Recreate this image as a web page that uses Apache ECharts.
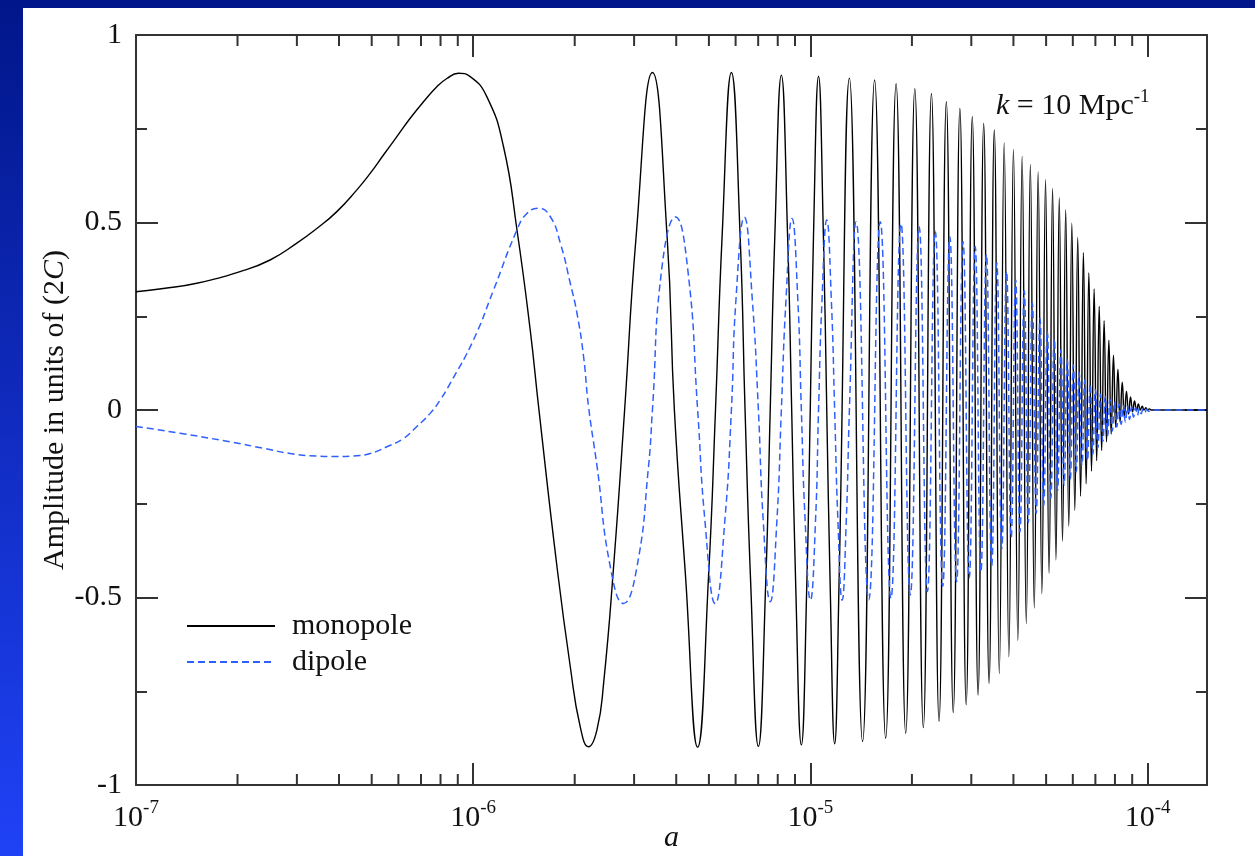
<!DOCTYPE html>
<html><head><meta charset="utf-8">
<script src="https://cdn.jsdelivr.net/npm/echarts@6/dist/echarts.min.js"></script>
<style>html,body{margin:0;padding:0;width:1255px;height:856px;overflow:hidden;background:#fff}#c{width:1255px;height:856px}</style>
</head><body><div id="c"></div>
<script>
// ---------- data (a in units of 1e-6) ----------
const aUnit = 1e-6;
const xMin = 1e-7, xMax = 1.5e-4;

const monoA = [0.10,0.1205,0.1514,0.2036,0.2498,0.2999,0.3438,0.3941,0.4518,0.4948,0.5418,0.5937,0.6503,0.7121,0.7801,0.8356,0.9045,0.9797,1.0982,1.2301,1.3485,1.4761,1.5627,1.772,1.94,2.077,2.198,2.328,2.436,2.608,2.812,
3.04,3.40,3.76,3.95,4.26,4.63,4.99,5.23,5.47,5.83,6.19,6.40,6.65,7.01,7.37,7.60,7.84,8.20,8.56,8.80,9.04,9.40,9.76,9.99,10.21,10.57,10.93,11.18,11.44,11.8,12.16,
13.05,14.28,15.5,16.72,17.95,19.17,20.4,21.62,22.85,24.07,25.3,26.52,27.75,28.97,30.2,31.42,32.65,33.87,35.1,36.32,37.55,38.77,40.0,41.22,42.45,43.67,44.9,46.12,47.35,48.57,49.8,51.02,52.25,53.47,54.7,55.92,57.15,58.37,59.6,60.82,62.05,63.27,64.5,65.72,66.95,68.17,69.4,70.62,71.85,73.07,74.3,75.52,76.75,77.97,79.2,80.42,81.65,82.87,84.1,85.32,86.55,87.77,89.0,90.2,91.45,92.7,93.9,95.1,96.35,97.6,98.8,100.0,101.25,102.5,110,150];
const monoY = [0.3155,0.324,0.338,0.369,0.40,0.445,0.484,0.529,0.587,0.631,0.68,0.729,0.778,0.822,0.862,0.884,0.898,0.889,0.835,0.702,0.48,0.213,0.009,-0.418,-0.684,-0.845,-0.898,-0.853,-0.729,-0.418,0.0,
0.46,0.90,0.46,0.0,-0.44,-0.899,-0.44,0.0,0.46,0.90,0.46,0.0,-0.46,-0.897,-0.46,0.0,0.46,0.893,0.46,0.0,-0.46,-0.893,-0.46,0.0,0.46,0.89,0.46,0.0,-0.46,-0.89,-0.46,
0.885,-0.884,0.88,-0.875,0.87,-0.862,0.857,-0.847,0.844,-0.83,0.822,-0.807,0.804,-0.786,0.782,-0.76,0.764,-0.729,0.747,-0.703,0.712,-0.658,0.695,-0.615,0.677,-0.57,0.655,-0.528,0.635,-0.49,0.614,-0.436,0.591,-0.4,0.566,-0.35,0.534,-0.31,0.498,-0.268,0.46,-0.23,0.42,-0.197,0.366,-0.163,0.323,-0.135,0.276,-0.108,0.238,-0.085,0.186,-0.064,0.146,-0.046,0.109,-0.032,0.074,-0.02,0.05,-0.011,0.035,-0.005,0.024,-0.002,0.016,0.0,0.01,0.0,0.006,0.0,0.003,0.0,0.0,0.0];

const dipA = [0.10,0.1351,0.19,0.2386,0.2864,0.3438,0.3941,0.4518,0.4948,0.5546,0.6211,0.6806,0.7455,0.7985,0.8547,1.002,1.149,1.348,1.443,1.563,1.692,1.813,1.94,2.031,2.125,2.198,2.33,2.55,2.79,3.06,3.31,3.40,3.62,3.98,4.33,4.63,
4.86,5.22,5.58,5.83,6.01,6.37,6.73,7.01,7.24,7.60,7.96,8.20,8.46,8.82,9.18,9.40,9.64,10.0,10.36,10.57,10.82,11.18,11.54,11.8,12.06,12.42,12.78,13.05,
13.66,14.89,16.11,17.33,18.56,19.78,21.01,22.23,23.46,24.68,25.91,27.13,28.36,29.58,30.81,32.03,33.26,34.48,35.71,36.93,38.16,39.38,40.61,41.83,43.06,44.28,45.51,46.73,47.96,49.18,50.41,51.63,52.86,54.08,55.31,56.53,57.76,58.98,60.21,61.43,62.66,63.88,65.11,66.33,67.56,68.78,70.01,71.23,72.46,73.68,74.91,76.13,77.36,78.58,79.81,81.03,82.26,83.48,84.71,85.93,87.16,88.38,89.6,90.83,92.08,93.3,94.5,95.7,96.95,98.2,99.4,100.6,104,150];
const dipY = [-0.044,-0.062,-0.085,-0.102,-0.116,-0.123,-0.124,-0.122,-0.116,-0.098,-0.076,-0.044,-0.009,0.027,0.071,0.187,0.32,0.48,0.524,0.538,0.516,0.445,0.338,0.258,0.142,0.009,-0.151,-0.418,-0.516,-0.418,-0.151,0.0,0.373,0.515,0.373,0.0,
-0.29,-0.516,-0.29,0.0,0.29,0.514,0.29,0.0,-0.29,-0.511,-0.29,0.0,0.29,0.511,0.29,0.0,-0.29,-0.507,-0.29,0.0,0.29,0.507,0.29,0.0,-0.29,-0.507,-0.29,0.0,
0.502,-0.506,0.502,-0.502,0.497,-0.493,0.489,-0.484,0.477,-0.47,0.462,-0.458,0.449,-0.448,0.436,-0.432,0.415,-0.415,0.392,-0.37,0.37,-0.34,0.347,-0.325,0.318,-0.3,0.285,-0.275,0.245,-0.255,0.21,-0.235,0.19,-0.215,0.16,-0.2,0.136,-0.185,0.12,-0.165,0.1,-0.148,0.08,-0.135,0.07,-0.118,0.055,-0.1,0.042,-0.083,0.036,-0.068,0.028,-0.056,0.022,-0.045,0.017,-0.038,0.013,-0.032,0.01,-0.025,0.008,-0.019,0.006,-0.014,0.004,-0.01,0.003,-0.006,0.002,-0.003,0.0,0.0];

const minorTicks = [2e-7,3e-7,4e-7,5e-7,6e-7,7e-7,8e-7,9e-7,2e-6,3e-6,4e-6,5e-6,6e-6,7e-6,8e-6,9e-6,2e-5,3e-5,4e-5,5e-5,6e-5,7e-5,8e-5,9e-5];
const seriesNames = ['monopole','dipole'];
const xName = 'a';

// ---------- chart ----------
const FONT = 'Liberation Serif';
const FS = 30;
const INK = '#111';
const FRAME = '#333';
const chart = echarts.init(document.getElementById('c'), null, {renderer:'canvas'});

function pairs(xs, ys){ return xs.map((a,i)=>[a*aUnit, ys[i]]); }

const xLabelRich = {
  b:{fontFamily:FONT,fontSize:FS,color:INK,lineHeight:38},
  s:{fontFamily:FONT,fontSize:19,color:INK,lineHeight:19,verticalAlign:'top'}
};
function xFmt(v){
  const e = Math.log10(v), r = Math.round(e);
  if (Math.abs(e-r) > 1e-6) return '';
  return '{b|10}{s|' + r + '}';
}
const frameLine = {show:true,onZero:false,lineStyle:{color:FRAME,width:2}};
const majorTick = {show:true,inside:true,length:22,lineStyle:{color:FRAME,width:2}};

const option = {
  animation:false,
  graphic:[
    {type:'rect',left:0,top:0,z:-20,silent:true,shape:{width:1255,height:856},
     style:{fill:new echarts.graphic.LinearGradient(0,0,0,1,[{offset:0,color:'#01168a'},{offset:1,color:'#1f42f6'}])}},
    {type:'rect',left:23,top:8,z:-10,silent:true,shape:{width:1232,height:848},style:{fill:'#ffffff'}},
    {type:'text',left:996,top:88,z:10,silent:true,
     style:{text:'{i|k} = 10 Mpc{s|-1}',fill:INK,
       rich:{
         i:{fontFamily:FONT,fontStyle:'italic',fontSize:FS,color:INK,lineHeight:36},
         s:{fontFamily:FONT,fontSize:19,color:INK,lineHeight:19,verticalAlign:'top'}
       },
       fontFamily:FONT,fontSize:FS,lineHeight:36}}
  ],
  grid:{left:136,right:48,top:35,bottom:71,containLabel:false,outerBoundsMode:'none'},
  legend:{
    data:seriesNames,orient:'vertical',left:186,top:611,padding:0,
    itemWidth:88,itemHeight:14,itemGap:6,
    itemStyle:{opacity:0},
    textStyle:{fontFamily:FONT,fontSize:FS,color:INK,padding:[0,0,0,12]}
  },
  xAxis:[
    {type:'log',logBase:10,min:xMin,max:xMax,position:'bottom',
     name:xName,nameLocation:'middle',nameGap:38,nameMoveOverlap:false,
     nameTextStyle:{fontFamily:FONT,fontStyle:'italic',fontSize:FS,color:INK},
     axisLine:frameLine,axisTick:majorTick,
     axisLabel:{show:true,margin:14,formatter:xFmt,rich:xLabelRich,showMaxLabel:false},
     splitLine:{show:false},minorTick:{show:false}},
    {type:'log',logBase:10,min:xMin,max:xMax,position:'top',
     axisLine:frameLine,axisTick:majorTick,axisLabel:{show:false},
     splitLine:{show:false},minorTick:{show:false}}
  ],
  yAxis:[
    {type:'value',min:-1,max:1,interval:0.5,position:'left',
     name:'{r|Amplitude in units of (2}{i|C}{r|)}',nameLocation:'middle',nameGap:66,nameMoveOverlap:false,
     nameTextStyle:{rich:{
       r:{fontFamily:FONT,fontSize:FS,color:INK},
       i:{fontFamily:FONT,fontStyle:'italic',fontSize:FS,color:INK}}},
     axisLine:frameLine,axisTick:majorTick,
     minorTick:{show:true,splitNumber:2,length:11,lineStyle:{color:FRAME,width:2}},
     axisLabel:{show:true,margin:14,fontFamily:FONT,fontSize:FS,color:INK},
     splitLine:{show:false},minorSplitLine:{show:false}},
    {type:'value',min:-1,max:1,interval:0.5,position:'right',
     axisLine:frameLine,axisTick:majorTick,
     minorTick:{show:true,splitNumber:2,length:11,lineStyle:{color:FRAME,width:2}},
     axisLabel:{show:false},splitLine:{show:false}}
  ],
  series:[
    {name:seriesNames[0],type:'line',xAxisIndex:0,yAxisIndex:0,data:pairs(monoA,monoY),
     smooth:0.5,symbol:'none',showSymbol:false,clip:true,z:3,
     lineStyle:{color:'#000',width:1.4},itemStyle:{color:'#000'}},
    {name:seriesNames[1],type:'line',xAxisIndex:0,yAxisIndex:0,data:pairs(dipA,dipY),
     smooth:0.5,symbol:'none',showSymbol:false,clip:true,z:4,
     lineStyle:{color:'#2f60ff',width:1.5,type:[7,4]},itemStyle:{color:'#2f60ff'}},
    {name:'minorTicks',type:'custom',xAxisIndex:0,yAxisIndex:0,silent:true,clip:false,z:6,
     data:minorTicks.map(v=>[v,0]),
     renderItem:function(params,api){
       const v = api.value(0);
       const b = api.coord([v,-1]), t = api.coord([v,1]);
       return {type:'group',children:[
         {type:'line',shape:{x1:b[0],y1:b[1],x2:b[0],y2:b[1]-11},style:{stroke:FRAME,lineWidth:2}},
         {type:'line',shape:{x1:t[0],y1:t[1],x2:t[0],y2:t[1]+11},style:{stroke:FRAME,lineWidth:2}}
       ]};
     }}
  ]
};
chart.setOption(option);
</script>
</body></html>
